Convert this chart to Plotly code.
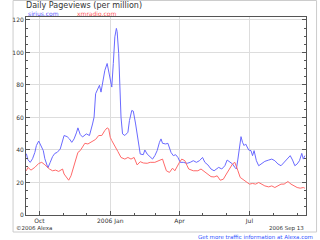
import plotly.graph_objects as go

# ---- data ----
sirius_dates = [
    "2005-09-14", "2005-09-16", "2005-09-19", "2005-09-22", "2005-09-25", "2005-09-27", "2005-09-30",
    "2005-10-03", "2005-10-06", "2005-10-08", "2005-10-12", "2005-10-15", "2005-10-18", "2005-10-21",
    "2005-10-24", "2005-10-28", "2005-10-31", "2005-11-02", "2005-11-06", "2005-11-09", "2005-11-12",
    "2005-11-15", "2005-11-18", "2005-11-20", "2005-11-23", "2005-11-26", "2005-12-01", "2005-12-05",
    "2005-12-09", "2005-12-11", "2005-12-13", "2005-12-15", "2005-12-18", "2005-12-20", "2005-12-22",
    "2005-12-25", "2005-12-28", "2005-12-30", "2006-01-01", "2006-01-03", "2006-01-05", "2006-01-07",
    "2006-01-09", "2006-01-10", "2006-01-12", "2006-01-14", "2006-01-15", "2006-01-17", "2006-01-20",
    "2006-01-24", "2006-01-26", "2006-01-29", "2006-01-31", "2006-02-03", "2006-02-05", "2006-02-07",
    "2006-02-09", "2006-02-13", "2006-02-15", "2006-02-18", "2006-02-22", "2006-02-25", "2006-02-28",
    "2006-03-03", "2006-03-06", "2006-03-08", "2006-03-10", "2006-03-14", "2006-03-17", "2006-03-19",
    "2006-03-21", "2006-03-24", "2006-03-27", "2006-03-30", "2006-04-02", "2006-04-06", "2006-04-11",
    "2006-04-15", "2006-04-19", "2006-04-23", "2006-04-27", "2006-05-01", "2006-05-04", "2006-05-08",
    "2006-05-12", "2006-05-16", "2006-05-22", "2006-05-26", "2006-05-30", "2006-06-02", "2006-06-06",
    "2006-06-09", "2006-06-12", "2006-06-14", "2006-06-16", "2006-06-18", "2006-06-20", "2006-06-22",
    "2006-06-24", "2006-06-26", "2006-06-30", "2006-07-03", "2006-07-05", "2006-07-07", "2006-07-10",
    "2006-07-13", "2006-07-17", "2006-07-21", "2006-07-26", "2006-07-30", "2006-08-03", "2006-08-07",
    "2006-08-11", "2006-08-15", "2006-08-20", "2006-08-23", "2006-08-26", "2006-08-29", "2006-09-01",
    "2006-09-04", "2006-09-07", "2006-09-09", "2006-09-11",
]
sirius_values = [
    37.7, 34.0, 32.4, 34.6, 38.5, 42.7, 45.5,
    42.7, 39.6, 34.6, 29.0, 32.4, 35.9, 37.9,
    38.5, 40.6, 45.8, 48.9, 48.2, 46.8, 44.7,
    46.8, 50.5, 53.6, 49.5, 48.0, 49.9, 48.9,
    56.0, 60.2, 74.6, 76.7, 79.8, 75.6, 80.8,
    89.0, 93.2, 89.0, 82.9, 78.7, 93.2, 109.6,
    114.8, 112.7, 99.4, 78.7, 60.2, 49.9, 48.9,
    50.9, 58.1, 64.3, 63.9, 56.0, 49.9, 41.6,
    37.5, 37.1, 40.0, 37.5, 35.4, 34.4, 36.5,
    39.6, 44.7, 46.8, 44.1, 43.7, 44.1, 41.6,
    38.5, 36.5, 37.1, 35.4, 32.4, 32.4, 31.8,
    32.4, 33.4, 32.4, 33.4, 35.4, 32.4, 30.8,
    28.3, 27.2, 29.3, 28.3, 30.3, 33.8, 32.4,
    31.4, 29.3, 28.3, 34.4, 41.6, 48.2, 44.7,
    42.7, 43.7, 40.0, 39.6, 36.5, 39.6, 33.4,
    30.3, 31.4, 33.0, 33.8, 34.4, 33.4, 31.4,
    30.3, 32.4, 35.4, 36.5, 33.8, 30.3, 31.4,
    33.4, 37.9, 34.4, 36.5,
]

xm_dates = [
    "2005-09-14", "2005-09-16", "2005-09-20", "2005-09-25", "2005-09-30", "2005-10-04", "2005-10-08",
    "2005-10-11", "2005-10-14", "2005-10-18", "2005-10-22", "2005-10-26", "2005-10-31", "2005-11-02",
    "2005-11-06", "2005-11-08", "2005-11-11", "2005-11-14", "2005-11-17", "2005-11-20", "2005-11-23",
    "2005-11-26", "2005-11-29", "2005-12-03", "2005-12-07", "2005-12-13", "2005-12-17", "2005-12-21",
    "2005-12-25", "2005-12-28", "2005-12-30", "2006-01-01", "2006-01-03", "2006-01-07", "2006-01-11",
    "2006-01-15", "2006-01-20", "2006-01-24", "2006-01-28", "2006-02-01", "2006-02-05", "2006-02-09",
    "2006-02-13", "2006-02-18", "2006-02-22", "2006-02-28", "2006-03-06", "2006-03-10", "2006-03-12",
    "2006-03-15", "2006-03-19", "2006-03-23", "2006-03-26", "2006-03-29", "2006-04-01", "2006-04-04",
    "2006-04-08", "2006-04-11", "2006-04-13", "2006-04-19", "2006-04-25", "2006-04-29", "2006-05-03",
    "2006-05-08", "2006-05-12", "2006-05-16", "2006-05-20", "2006-05-24", "2006-05-28", "2006-06-01",
    "2006-06-06", "2006-06-09", "2006-06-12", "2006-06-14", "2006-06-16", "2006-06-19", "2006-06-22",
    "2006-06-26", "2006-07-01", "2006-07-05", "2006-07-09", "2006-07-13", "2006-07-17", "2006-07-21",
    "2006-07-26", "2006-07-30", "2006-08-03", "2006-08-07", "2006-08-11", "2006-08-15", "2006-08-20",
    "2006-08-24", "2006-08-28", "2006-09-01", "2006-09-05", "2006-09-09", "2006-09-11",
]
xm_values = [
    27.2, 29.3, 27.6, 29.3, 31.7, 32.4, 30.9,
    29.3, 28.3, 27.2, 27.6, 26.8, 28.3, 25.2,
    22.7, 21.4, 24.1, 29.3, 33.4, 38.5, 39.6,
    42.0, 44.1, 43.7, 44.7, 46.5, 48.9, 48.9,
    52.0, 53.6, 53.0, 47.8, 45.8, 42.7, 39.0,
    35.4, 34.4, 35.4, 34.4, 35.4, 30.8, 32.8,
    32.0, 31.8, 32.4, 32.4, 33.8, 34.4, 31.4,
    27.2, 26.2, 28.8, 27.2, 30.3, 32.4, 34.4,
    33.4, 30.3, 28.3, 27.2, 27.2, 28.3, 26.7,
    24.6, 23.6, 23.4, 24.1, 21.4, 22.0, 25.2,
    29.3, 31.4, 32.4, 30.3, 27.2, 23.1, 22.0,
    21.0, 19.0, 19.4, 19.0, 20.0, 19.0, 17.9,
    17.3, 17.9, 16.9, 17.9, 19.0, 19.0, 20.6,
    19.0, 17.9, 16.9, 16.5, 16.9, 16.5,
]

x_tickvals = ["2005-10-01", "2006-01-01", "2006-04-01", "2006-07-01"]
x_ticktext = ["Oct", "2006 Jan", "Apr", "Jul"]
y_tickvals = [0, 20, 40, 60, 80, 100, 120]

# ---- layout geometry ----
W, H = 320, 240
L, R, T, B = 14, 306, 17, 215


def px(x):
    return (x - L) / (R - L)


def py(y):
    return (B - y) / (B - T)


FONT = "DejaVu Sans"

fig = go.Figure()
fig.add_trace(go.Scatter(x=sirius_dates, y=sirius_values, mode="lines",
                         line=dict(color="#6a6aff", width=1), showlegend=False))
fig.add_trace(go.Scatter(x=xm_dates, y=xm_values, mode="lines",
                         line=dict(color="#ff6a6a", width=1), showlegend=False))

axis_col = "#555555"
fig.update_layout(
    width=W, height=H,
    margin=dict(l=L, r=W - R, t=T, b=H - B, pad=0),
    paper_bgcolor="white", plot_bgcolor="white",
    font=dict(family=FONT, size=6, color="#333333"),
    xaxis=dict(
        range=["2005-09-13 12:00", "2006-09-12 12:00"],
        tickmode="array", tickvals=x_tickvals, ticktext=x_ticktext,
        ticks="inside", ticklen=4, tickcolor=axis_col,
        showline=True, linecolor=axis_col, linewidth=1, mirror=True,
        showgrid=True, gridcolor="#dddddd", gridwidth=1,
        zeroline=False,
        tickfont=dict(size=6, color="#333333"),
        minor=dict(ticks="inside", ticklen=2, tickcolor=axis_col,
                   dtick="M1", tick0="2005-10-01", showgrid=False),
    ),
    yaxis=dict(
        range=[0, 121.8],
        tickmode="array", tickvals=y_tickvals,
        ticks="inside", ticklen=4, tickcolor=axis_col,
        showline=True, linecolor=axis_col, linewidth=1, mirror="allticks",
        showgrid=True, gridcolor="#dddddd", gridwidth=1,
        zeroline=False,
        tickfont=dict(size=6, color="#333333"),
        minor=dict(ticks="inside", ticklen=2, tickcolor=axis_col,
                   dtick=5, tick0=0, showgrid=False),
    ),
)

annotations = [
    dict(text="Daily Pageviews (per million)", x=px(12), y=py(6), xanchor="left",
         yanchor="middle", font=dict(size=8, color="#333333")),
    dict(text="sirius.com", x=px(14), y=py(13), xanchor="left", yanchor="middle",
         font=dict(size=6, color="#5555ff")),
    dict(text="xmradio.com", x=px(65), y=py(13), xanchor="left", yanchor="middle",
         font=dict(size=6, color="#ff5555")),
    dict(text="©2006 Alexa", x=px(1), y=py(228), xanchor="left", yanchor="middle",
         font=dict(size=5.5, color="#333333")),
    dict(text="2006 Sep 13", x=px(306), y=py(228), xanchor="right", yanchor="middle",
         font=dict(size=5.5, color="#333333")),
    dict(text="Get more traffic information at Alexa.com", x=px(315), y=py(237),
         xanchor="right", yanchor="middle", font=dict(size=5.5, color="#3355ff")),
]
for a in annotations:
    a.update(xref="paper", yref="paper", showarrow=False)
fig.update_layout(annotations=annotations)

fig.add_shape(type="rect", xref="paper", yref="paper",
              x0=px(0.5), x1=px(317), y0=py(232), y1=py(0.5),
              line=dict(color="#cccccc", width=1), fillcolor="rgba(0,0,0,0)", layer="below")

fig.write_html("out.html")
